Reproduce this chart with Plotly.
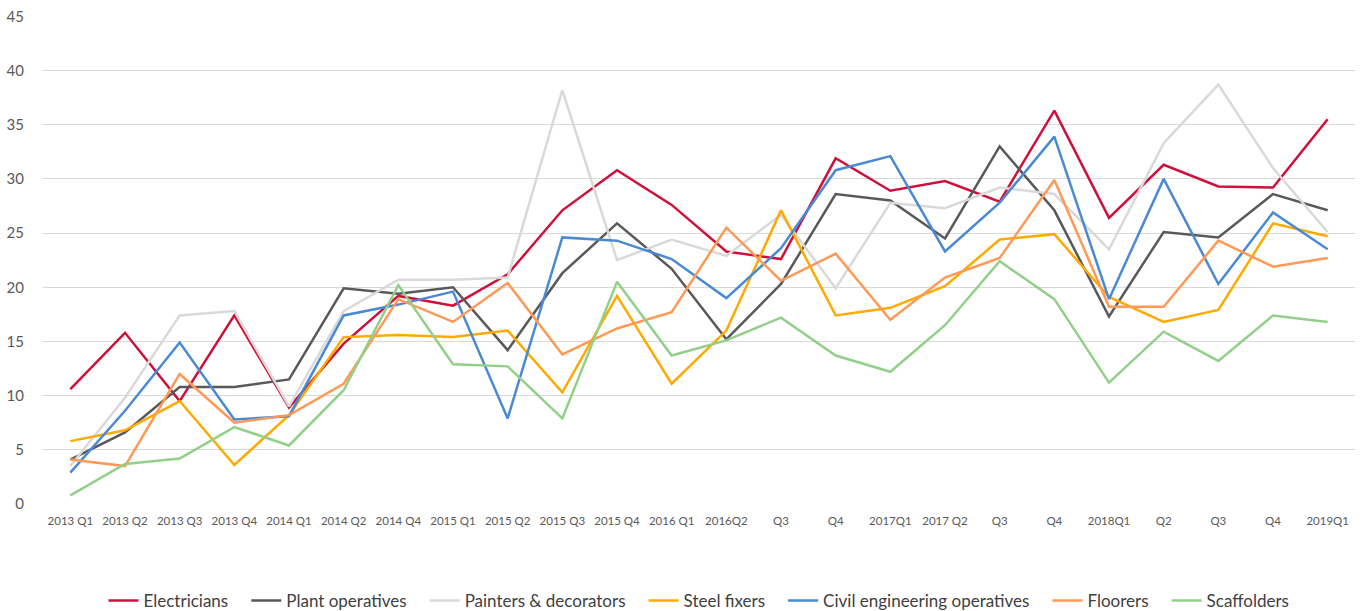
import plotly.graph_objects as go

# Quarter labels as shown on the axis (some repeat, so plot by index)
quarters = ["2013 Q1", "2013 Q2", "2013 Q3", "2013 Q4", "2014 Q1", "2014 Q2", "2014 Q4",
            "2015 Q1", "2015 Q2", "2015 Q3", "2015 Q4", "2016 Q1", "2016Q2", "Q3", "Q4",
            "2017Q1", "2017 Q2", "Q3", "Q4", "2018Q1", "Q2", "Q3", "Q4", "2019Q1"]

electricians = [10.6, 15.8, 9.5, 17.4, 8.9, 14.8, 19.2, 18.3, 21.2, 27.1, 30.8, 27.6,
                23.3, 22.6, 31.9, 28.9, 29.8, 27.9, 36.3, 26.4, 31.3, 29.3, 29.2, 35.5]
plant_operatives = [4.1, 6.6, 10.8, 10.8, 11.5, 19.9, 19.4, 20.0, 14.2, 21.3, 25.9, 21.7,
                    15.2, 20.3, 28.6, 28.0, 24.5, 33.0, 27.1, 17.3, 25.1, 24.6, 28.6, 27.1]
painters = [3.5, 9.8, 17.4, 17.8, 9.0, 17.8, 20.7, 20.7, 20.9, 38.2, 22.5, 24.4,
            22.9, 26.7, 19.9, 27.8, 27.3, 29.2, 28.6, 23.5, 33.3, 38.7, 31.0, 25.1]
steel_fixers = [5.8, 6.8, 9.5, 3.6, 8.2, 15.4, 15.6, 15.4, 16.0, 10.3, 19.2, 11.1,
                16.0, 27.1, 17.4, 18.1, 20.1, 24.4, 24.9, 19.1, 16.8, 17.9, 25.9, 24.7]
civil_eng = [2.9, 8.6, 14.9, 7.8, 8.1, 17.4, 18.4, 19.6, 7.9, 24.6, 24.3, 22.6,
             19.0, 23.6, 30.8, 32.1, 23.3, 27.8, 33.9, 18.9, 30.0, 20.3, 26.9, 23.5]
floorers = [4.1, 3.5, 12.0, 7.5, 8.2, 11.1, 18.9, 16.8, 20.4, 13.8, 16.2, 17.7,
            25.5, 20.6, 23.1, 17.0, 20.9, 22.7, 29.9, 18.2, 18.2, 24.3, 21.9, 22.7]
scaffolders = [0.8, 3.7, 4.2, 7.1, 5.4, 10.5, 20.2, 12.9, 12.7, 7.9, 20.5, 13.7,
               15.1, 17.2, 13.7, 12.2, 16.5, 22.4, 18.9, 11.2, 15.9, 13.2, 17.4, 16.8]

series = [
    ("Electricians", electricians, "#D0103A"),
    ("Plant operatives", plant_operatives, "#595959"),
    ("Painters & decorators", painters, "#D9D9D9"),
    ("Steel fixers", steel_fixers, "#FFAA00"),
    ("Civil engineering operatives", civil_eng, "#4A8AD4"),
    ("Floorers", floorers, "#FF9955"),
    ("Scaffolders", scaffolders, "#92D08A"),
]

x_idx = list(range(len(quarters)))
pad = "\u00a0" * 3  # a bit more room between legend entries

fig = go.Figure()
for i, (name, vals, col) in enumerate(series):
    label = name + pad if i < len(series) - 1 else name
    fig.add_trace(go.Scatter(x=x_idx, y=vals, mode="lines", name=label,
                             line=dict(color=col, width=2.5)))

fig.update_layout(
    width=1366, height=611,
    margin=dict(l=43, r=11, t=16, b=107, autoexpand=False),
    plot_bgcolor="white", paper_bgcolor="white",
    font=dict(family="Lato, sans-serif", color="#595959"),
    showlegend=True,
    legend=dict(orientation="h", x=0.5, xanchor="center",
                yref="container", y=0.0164, yanchor="middle",
                font=dict(size=17, color="#404040"), itemwidth=30,
                traceorder="normal"),
)
fig.update_xaxes(range=[-0.5, len(quarters) - 0.5], tickvals=x_idx, ticktext=quarters,
                 tickfont=dict(size=11.5, color="#595959"), showgrid=False,
                 showline=False, zeroline=False, ticks="", tickangle=0,
                 automargin=False, ticklabelstandoff=8)
fig.update_yaxes(range=[0, 45.03], tickvals=list(range(0, 50, 5)), showgrid=True,
                 gridcolor="#D9D9D9", gridwidth=1,
                 zeroline=False, showline=False, tickfont=dict(size=15, color="#595959"),
                 automargin=False, ticklabelstandoff=18)

# drop the default 8px page margin so the figure fills the window
fig.write_html("out.html", config={"displayModeBar": False},
               post_script="document.body.style.margin='0';")
